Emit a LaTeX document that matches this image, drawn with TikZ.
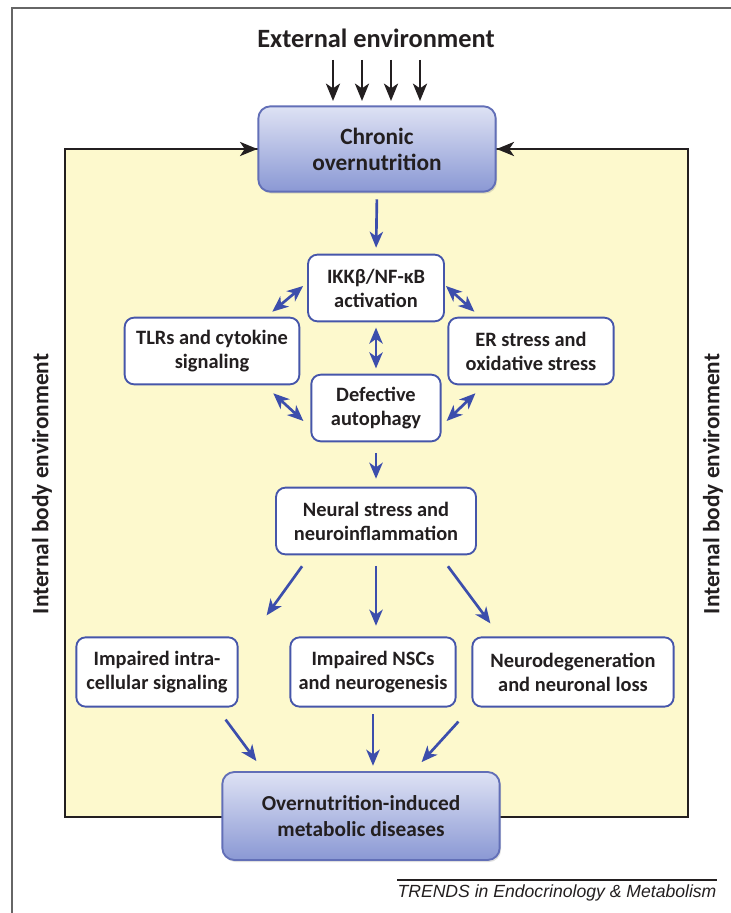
\documentclass[tikz,border=0pt]{standalone}
\usepackage{fontspec}
\setmainfont{Carlito}
\newfontfamily\trendsfont{Liberation Sans}
\usetikzlibrary{arrows.meta,calc,shadows}
\definecolor{boxblue}{RGB}{70,86,170}
\definecolor{arrblue}{RGB}{60,78,172}
\definecolor{panel}{RGB}{253,249,205}
\definecolor{ink}{RGB}{35,31,32}
\definecolor{shtop}{RGB}{222,226,244}
\definecolor{shbot}{RGB}{138,152,212}

\begin{document}
\begin{tikzpicture}[x=0.75pt,y=-0.75pt,
    box/.style={draw=boxblue,line width=1.4pt,rounded corners=7pt,fill=white,align=center,text=ink,
      font=\bfseries\fontsize{15.3}{18}\selectfont,minimum height=50pt,inner sep=2pt},
    bigbox/.style={box,top color=shtop,bottom color=shbot,draw=boxblue!85,
      font=\bfseries\fontsize{17.5}{19.5}\selectfont,rounded corners=9pt,
      drop shadow={opacity=0.25,shadow xshift=1pt,shadow yshift=-1.5pt}},
    arr/.style={arrblue,line width=2pt,-{Stealth[length=12pt,width=10pt,inset=3.5pt]}},
    dbl/.style={arrblue,line width=2pt,{Stealth[length=12pt,width=10pt,inset=3.5pt]}-{Stealth[length=12pt,width=10pt,inset=3.5pt]}},
    blk/.style={ink,line width=2.2pt,-{Stealth[length=13pt,width=10.5pt,inset=3.5pt]}}]
  \useasboundingbox (0,0) rectangle (731,913);
  \draw[gray!80!black,line width=1.2pt] (12,913) -- (12,8) -- (731,8);

  \coordinate (pl) at (65,149);
  \coordinate (pr) at (688,149);
  \draw[fill=panel,draw=ink,line width=2pt] (65,149) rectangle (688,817);

  \node[font=\bfseries\fontsize{19.8}{22}\selectfont,text=ink] (ext) at (376,38) {External environment};
  \node[bigbox,minimum width=178pt,minimum height=64pt] (chron) at (377,149) {Chronic\\overnutrition};
  \foreach \x in {333,362,391,420} {
    \coordinate (e\x) at (\x,60);
    \draw[blk] (e\x) -- (\x,101);
  }
  \draw[blk] (pl) -- (chron.west);
  \draw[blk] (pr) -- (chron.east);

  \node[box,minimum width=102pt] (ikk) at (376,288) {IKKβ/NF-κB\\activation};
  \node[box,minimum width=131pt] (tlr) at (212,351) {TLRs and cytokine\\signaling};
  \node[box,minimum width=124pt] (er) at (531,351) {ER stress and\\oxidative stress};
  \node[box,minimum width=97pt] (def) at (376,408) {Defective\\autophagy};
  \node[box,minimum width=150pt] (neur) at (376,521) {Neural stress and\\neuroinflammation};

  \node[box,minimum width=121pt,minimum height=52pt] (imp) at (157,672) {Impaired intra-\\cellular signaling};
  \node[box,minimum width=124pt,minimum height=52pt] (nsc) at (373,672) {Impaired NSCs\\and neurogenesis};
  \node[box,minimum width=151pt,minimum height=52pt] (ndg) at (573,672) {Neurodegeneration\\and neuronal loss};

  \node[bigbox,minimum width=208pt,minimum height=66pt,font=\bfseries\fontsize{16}{20}\selectfont] (dis) at (361,816) {Overnutrition-induced\\metabolic diseases};

  \draw[arr,shorten <=5pt,shorten >=4.5pt] (chron.south) -- (ikk.north);
  \draw[dbl] ($(ikk.west)+(-4,-2)$) -- ($(tlr.north east)+(-28,-5)$);
  \draw[dbl] ($(ikk.east)+(1,-2)$) -- ($(er.north west)+(27,-5)$);
  \draw[dbl,shorten <=4pt,shorten >=4pt] (ikk.south) -- (def.north);
  \draw[dbl] ($(tlr.south east)+(-27,8)$) -- ($(def.west)+(-7,13)$);
  \draw[dbl] ($(er.south west)+(28,8)$) -- ($(def.east)+(5,13)$);
  \draw[arr,shorten <=8pt,shorten >=6pt] (def.south) -- (neur.north);

  \draw[arr] ($(neur.south west)+(27,11)$) -- ($(imp.north east)+(28,-21)$);
  \draw[arr,shorten <=8pt,shorten >=8pt] (neur.south) -- (neur.south |- nsc.north);
  \draw[arr] ($(neur.south east)+(-29,11)$) -- ($(ndg.north west)+(19,-13)$);

  \draw[arr] ($(imp.south east)+(-13,12)$) -- ($(dis.north west)+(35,-10)$);
  \draw[arr,shorten <=5pt,shorten >=4pt] (nsc.south) -- (nsc.south |- dis.north);
  \draw[arr] ($(ndg.south west)+(-13,14)$) -- ($(dis.north east)+(-79,-9)$);

  \node[rotate=90,font=\bfseries\fontsize{17.5}{20}\selectfont,text=ink] (inl) at (42,484) {Internal body environment};
  \node[rotate=90,font=\bfseries\fontsize{17.5}{20}\selectfont,text=ink] (inr) at (713,484) {Internal body environment};

  \draw[ink,line width=0.9pt] (397,880) -- (717,880);
  \node[font=\trendsfont\itshape\fontsize{13.2}{15}\selectfont,text=ink] (src) at (557,893) {TRENDS in Endocrinology \& Metabolism};
\end{tikzpicture}
\end{document}
